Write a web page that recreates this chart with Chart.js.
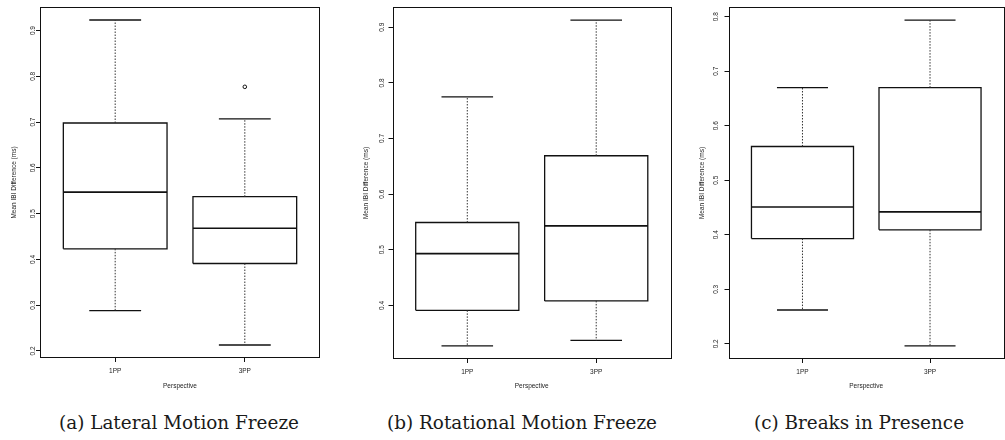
<!DOCTYPE html>
<html>
<head>
<meta charset="utf-8">
<script src="https://cdn.jsdelivr.net/npm/chart.js@4.4.0/dist/chart.umd.min.js"></script>
<style>
  body { margin: 0; background: #fff; width: 1005px; height: 440px; position: relative; overflow: hidden; }
  canvas { position: absolute; top: 0; }
  .cap { position: absolute; top: 413px; width: 400px; text-align: center; white-space: nowrap;
         font: 18.4px/19px "DejaVu Serif", serif; color: #1a1a1a; }
</style>
</head>
<body>
<canvas id="lateral" width="330" height="400" style="left:0px"></canvas>
<canvas id="rotational" width="340" height="400" style="left:340px"></canvas>
<canvas id="breaks" width="325" height="400" style="left:680px"></canvas>
<div class="cap" style="left:-21px">(a) Lateral Motion Freeze</div>
<div class="cap" style="left:322px">(b) Rotational Motion Freeze</div>
<div class="cap" style="left:659px">(c) Breaks in Presence</div>
<script>
// ── Data ───────────────────────────────────────────────────
const categories = ["1PP", "3PP"];

// five-number summaries: lower whisker, Q1, median, Q3, upper whisker
const lateral1PP    = [0.288, 0.423, 0.547, 0.698, 0.923];
const lateral3PP    = [0.213, 0.391, 0.468, 0.537, 0.707];
const lateral3PPOut = [0.777];

const rotational1PP = [0.327, 0.391, 0.493, 0.549, 0.775];
const rotational3PP = [0.337, 0.408, 0.543, 0.669, 0.913];

const breaks1PP     = [0.262, 0.393, 0.451, 0.562, 0.670];
const breaks3PP     = [0.196, 0.409, 0.442, 0.670, 0.794];

const lateralTicks    = [0.2, 0.3, 0.4, 0.5, 0.6, 0.7, 0.8, 0.9];
const rotationalTicks = [0.4, 0.5, 0.6, 0.7, 0.8, 0.9];
const breaksTicks     = [0.2, 0.3, 0.4, 0.5, 0.6, 0.7, 0.8];

const yTitle = "Mean IBI Difference (ms)";
const xTitle = "Perspective";

// ── Helpers ────────────────────────────────────────────────
const SANS = "'Liberation Sans', Arial, sans-serif";

function seg(points, opts = {}) {
  return {
    data: points.map(([x, y]) => ({ x, y })),
    showLine: true,
    borderColor: opts.color || "#111",
    borderWidth: opts.width || 1.3,
    borderDash: opts.dash || [],
    pointRadius: 0,
    fill: false,
    tension: 0,
  };
}

function boxSets(stats, pos, outliers = []) {
  const [lo, q1, med, q3, hi] = stats;
  const w = 0.4, c = 0.2;
  const dash = { dash: [1.5, 1.5], width: 1, color: "#333" };
  const sets = [
    seg([[pos, q3], [pos, hi]], dash),
    seg([[pos, q1], [pos, lo]], dash),
    seg([[pos - c, hi], [pos + c, hi]]),
    seg([[pos - c, lo], [pos + c, lo]]),
    seg([[pos - w, q1], [pos + w, q1], [pos + w, q3], [pos - w, q3], [pos - w, q1]]),
    seg([[pos - w, med], [pos + w, med]], { width: 1.6 }),
  ];
  if (outliers.length) {
    sets.push({
      data: outliers.map((y) => ({ x: pos, y })),
      pointRadius: 1.8,
      pointBorderWidth: 1,
      pointBorderColor: "#111",
      pointBackgroundColor: "#fff",
      showLine: false,
    });
  }
  return sets;
}

// frame around the plot region + rotated y tick labels (R style)
const framePlugin = {
  id: "frame",
  afterDraw(chart, args, opts) {
    const { ctx, chartArea: a, scales } = chart;
    ctx.save();
    ctx.strokeStyle = "#111";
    ctx.lineWidth = 1;
    ctx.strokeRect(Math.round(a.left) + 0.5, Math.round(a.top) + 0.5,
                   Math.round(a.right - a.left) - 1, Math.round(a.bottom - a.top) - 1);
    ctx.fillStyle = "#222";
    ctx.font = "6.5px " + SANS;
    ctx.textAlign = "center";
    ctx.textBaseline = "middle";
    scales.y.ticks.forEach((t) => {
      ctx.save();
      ctx.translate(opts.labelX, scales.y.getPixelForValue(t.value));
      ctx.rotate(-Math.PI / 2);
      ctx.fillText(String(t.value), 0, 0);
      ctx.restore();
    });
    ctx.restore();
  },
};

function makePanel(id, b1, b2, out2, ticks, g) {
  const all = [...b1, ...b2, ...out2];
  const lo = Math.min(...all), hi = Math.max(...all);
  const ext = (hi - lo) * 0.04;
  return new Chart(document.getElementById(id), {
    type: "scatter",
    data: { datasets: [...boxSets(b1, 1), ...boxSets(b2, 2, out2)] },
    plugins: [framePlugin],
    options: {
      responsive: false,
      animation: false,
      devicePixelRatio: 1,
      layout: { padding: { top: 7, right: g.padRight, left: 0, bottom: 0 } },
      plugins: { legend: { display: false }, tooltip: { enabled: false }, frame: { labelX: g.labelX } },
      scales: {
        x: {
          type: "linear",
          min: 0.42,
          max: 2.58,
          afterBuildTicks: (s) => { s.ticks = categories.map((_, i) => ({ value: i + 1 })); },
          afterFit: (s) => { s.height = g.xHeight; },
          ticks: {
            callback: (v) => categories[v - 1],
            font: { family: SANS, size: 6.5 },
            color: "#222",
            padding: 5,
            maxRotation: 0,
          },
          grid: { drawOnChartArea: false, drawTicks: true, tickLength: 4, color: "#111" },
          border: { display: false },
          title: { display: true, text: xTitle, font: { family: SANS, size: 6.5 }, color: "#222",
                   padding: { top: 0, bottom: 9.4 } },
        },
        y: {
          min: lo - ext,
          max: hi + ext,
          afterBuildTicks: (s) => { s.ticks = ticks.map((v) => ({ value: v })); },
          afterFit: (s) => { s.width = g.yWidth; },
          ticks: { display: false },
          grid: { drawOnChartArea: false, drawTicks: true, tickLength: 4, color: "#111" },
          border: { display: false },
          title: { display: true, text: yTitle, font: { family: SANS, size: 6.5 }, color: "#222",
                   padding: { top: g.titlePad, bottom: 0 } },
        },
      },
    },
  });
}

// ── Draw ───────────────────────────────────────────────────
makePanel("lateral", lateral1PP, lateral3PP, lateral3PPOut, lateralTicks,
  { yWidth: 40, padRight: 10, xHeight: 42, labelX: 33, titlePad: 10.4 });
makePanel("rotational", rotational1PP, rotational3PP, [], rotationalTicks,
  { yWidth: 52.5, padRight: 9, xHeight: 41, labelX: 42.3, titlePad: 22 });
makePanel("breaks", breaks1PP, breaks3PP, [], breaksTicks,
  { yWidth: 48.5, padRight: 1, xHeight: 41, labelX: 36.7, titlePad: 18 });
</script>
</body>
</html>
